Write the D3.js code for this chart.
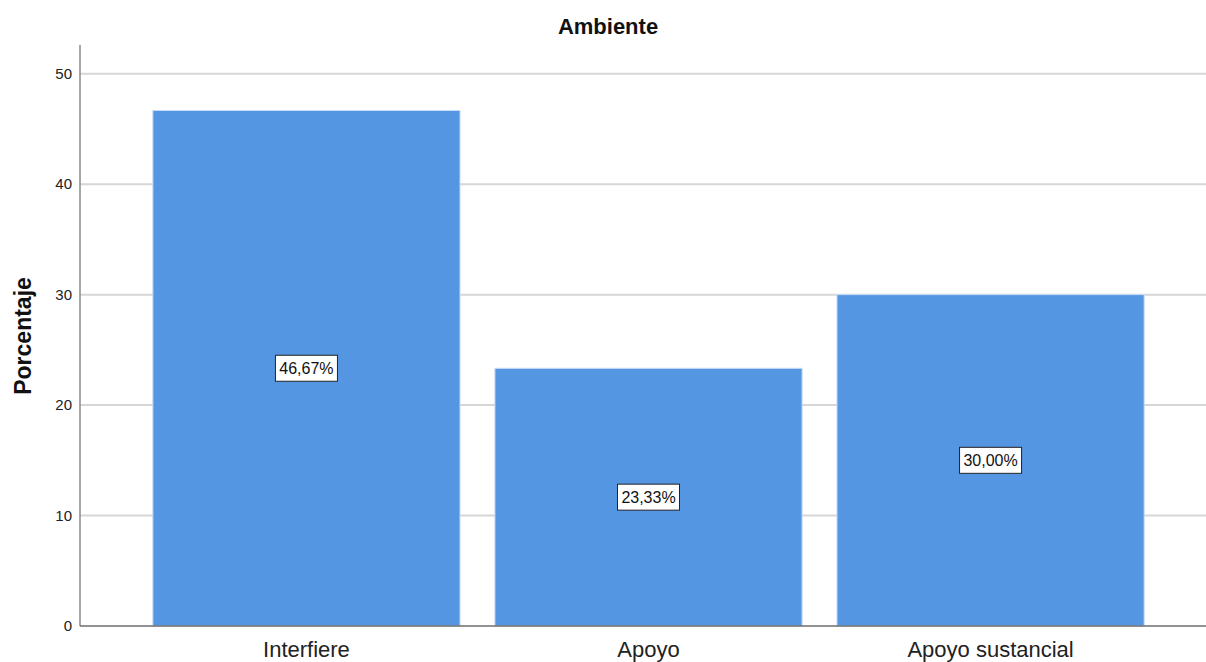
<!DOCTYPE html>
<html><head><meta charset="utf-8">
<script src="https://cdn.jsdelivr.net/npm/d3@7"></script>
<style>body{margin:0;background:#fff;}svg{display:block;font-family:Arial,"Liberation Sans",sans-serif;}</style>
</head><body>
<svg id="c" width="1206" height="662"></svg>
<script>
const categories = ["Interfiere", "Apoyo", "Apoyo sustancial"];
const values = [46.67, 23.33, 30.00];
const valueLabels = ["46,67%", "23,33%", "30,00%"];
const yTicks = [0, 10, 20, 30, 40, 50];

(function () {
const svg = d3.select("#c");
const mLeft = 80, mRight = 1217, mTop = 45, mBottom = 626;
const x = d3.scaleBand().domain(categories).range([mLeft, mRight]).paddingInner(0.102).paddingOuter(0.213);
const y = d3.scaleLinear().domain([0, 52.6]).range([mBottom, mTop]);

// gridlines
svg.append("g").selectAll("line").data(yTicks.filter(d => d > 0)).join("line")
  .attr("x1", mLeft).attr("x2", 1206).attr("y1", d => y(d)).attr("y2", d => y(d))
  .attr("stroke", "#d6d6d6").attr("stroke-width", 2);

// bars
svg.append("g").selectAll("rect").data(values).join("rect")
  .attr("x", (d, i) => x(categories[i]))
  .attr("width", x.bandwidth())
  .attr("y", d => y(d))
  .attr("height", d => y(0) - y(d))
  .attr("fill", "#5596e3")
  .attr("stroke", "#c8dcf5").attr("stroke-width", 1);

// axes
const yAxis = svg.append("g").attr("transform", `translate(${mLeft},0)`)
  .call(d3.axisLeft(y).tickValues(yTicks).tickSize(0).tickPadding(8));
yAxis.select(".domain").remove();
yAxis.selectAll("text").attr("font-size", 15).attr("fill", "#222");
svg.append("line").attr("x1", mLeft).attr("x2", mLeft).attr("y1", mTop).attr("y2", mBottom)
  .attr("stroke", "#8a8a8a").attr("stroke-width", 1.5);
svg.append("line").attr("x1", mLeft).attr("x2", 1206).attr("y1", mBottom).attr("y2", mBottom)
  .attr("stroke", "#6e6e6e").attr("stroke-width", 1.5);

const xAxis = svg.append("g").attr("transform", `translate(0,${mBottom})`)
  .call(d3.axisBottom(x).tickSize(0).tickPadding(15));
xAxis.select(".domain").remove();
xAxis.selectAll("text").attr("font-size", 22).attr("fill", "#222");

// value labels
const lg = svg.append("g").selectAll("g").data(values).join("g")
  .attr("transform", (d, i) => `translate(${x(categories[i]) + x.bandwidth() / 2},${y(d / 2)})`);
lg.append("rect").attr("x", -31).attr("y", -13).attr("width", 62).attr("height", 26)
  .attr("fill", "#fff").attr("stroke", "#222").attr("stroke-width", 1);
lg.append("text").text((d, i) => valueLabels[i]).attr("text-anchor", "middle").attr("dy", "0.36em")
  .attr("font-size", 16).attr("fill", "#111");

// title
svg.append("text").attr("x", 608).attr("y", 34).attr("text-anchor", "middle")
  .attr("font-size", 22).attr("font-weight", "bold").attr("fill", "#111").text("Ambiente");

// y label
svg.append("text").attr("transform", "translate(31,336) rotate(-90)").attr("text-anchor", "middle")
  .attr("font-size", 23).attr("font-weight", "bold").attr("fill", "#111").text("Porcentaje");
})();
</script>
</body></html>
